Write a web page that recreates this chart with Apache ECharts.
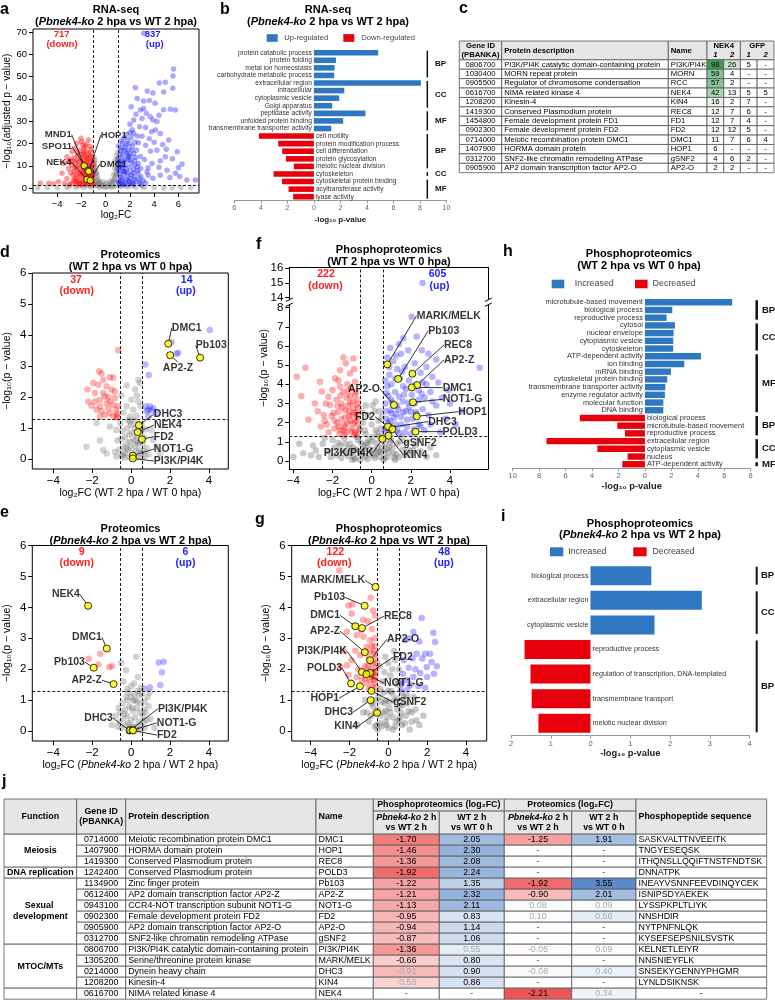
<!DOCTYPE html>
<html>
<head>
<meta charset="utf-8">
<script src="https://cdn.jsdelivr.net/npm/echarts@6.0.0/dist/echarts.min.js"></script>
<style>html,body{margin:0;padding:0;background:#fff;}#chart{width:775px;height:1000px;}</style>
</head>
<body>
<div id="chart"></div>
<script>
// ================= DATA =================
// Panel a: RNA-seq volcano (log2FC, -log10 adj p)
const aDown = [[-2.04,22.3],[-2.37,20.1],[-1.41,21.5],[-1.82,17.8],[-2.78,16.3],[-3.2,14],[-3.48,11],[-3.06,8.8],[-3.61,6.6],[-3.2,4.3],[-3.9,2.8],[-5.4,2.2],[-4.7,2.2],[-4.3,1.8],
[-1.1,2.0],[-1.3,3.1],[-1.6,2.4],[-1.9,2.9],[-2.2,2.1],[-2.5,2.6],[-2.8,2.0],[-1.2,4.5],[-1.5,5.2],[-1.8,4.6],[-2.1,5.5],[-2.4,4.8],[-2.7,5.8],[-1.1,6.8],[-1.4,7.6],[-1.7,8.4],[-2.0,7.2],[-2.3,8.1],[-2.6,7.5],[-2.9,6.9],[-1.2,9.5],[-1.5,10.4],[-1.9,11.2],[-2.2,10.1],[-2.5,11.5],[-2.8,10.4],[-1.1,12.2],[-1.4,13.1],[-1.7,14.0],[-2.0,13.2],[-2.3,14.5],[-2.6,13.6],[-1.2,15.8],[-1.6,16.5],[-2.1,16.9],[-2.5,18.0],[-1.3,18.6],[-1.9,19.4],[-1.05,10.6],[-1.05,4.1],[-1.35,1.5],[-1.75,1.6],[-2.05,1.4],[-2.4,1.6],[-3.0,1.7],[-3.4,2.2],[-1.25,11.8],[-1.55,12.0],[-1.85,9.0],[-1.65,6.3],[-1.35,5.9],[-2.15,3.6],[-1.45,3.5],[-2.65,3.3],[-3.1,11.9],[-2.9,12.8],[-1.15,8.2],[-2.45,9.6],[-2.0,20.8],[-1.6,19.8],[-1.3,14.4],[-1.8,15.2],[-2.35,12.3],[-1.95,6.1],[-1.25,6.6],[-2.55,4.1],
[-1.15,3.3],[-1.45,2.2],[-1.7,3.7],[-1.95,2.0],[-2.3,3.0],[-1.25,7.3],[-1.55,8.9],[-1.85,7.8],[-2.15,6.7],[-1.1,5.5],[-1.4,4.3],[-1.65,5.6],[-2.05,9.6],[-1.35,10.1],[-1.6,11.3],[-1.1,14.0],[-1.45,15.5],[-1.85,16.0],[-2.35,15.9],[-2.75,12.1],[-2.6,9.0],[-2.4,6.2],[-1.2,17.5],[-1.75,12.9],[-2.2,11.9],[-1.05,1.5],[-1.25,9.0],[-1.5,13.6],[-2.05,15.0],[-1.7,18.8]];
const aUp = [[3.13,69.4],[5.6,53.4],[5.55,50.2],[4.92,47.4],[4.42,47.1],[5.53,44.7],[2.44,45],[3.43,43.5],[4.78,43.1],[3.13,39],[3.6,39.3],[4.07,38],[4.78,35.1],[3.13,35.7],[3.35,33.5],[3.68,32],[2.86,35],[4.23,29.8],[5.34,35.3],[5.75,35],[2.31,30.5],[2.8,27.5],[3.79,25.3],[4.5,24.5],[5.2,21.5],[5.9,16.3],[6.3,10.8],[5.75,6.6],[6.7,3.6],[7.4,3.6],[4.23,17],[4.92,14],[3.82,11],[5.06,8],[4.5,5.8],[3.41,7.3],[2.6,40.2],[3.9,42.6],[2.1,36.4],[2.5,33.1],[3.0,31.2],[3.9,30.5],[4.4,32.6],[2.0,28.6],[3.3,27.1],[4.1,26.0],[2.3,24.6],[3.0,23.2],[3.6,22.1],[4.7,19.5],[2.7,20.3],[3.3,19.2],[4.0,20.6],[5.0,17.4],[3.7,16.5],[5.5,13.1],[4.5,12.3],[6.0,9.1],[5.3,4.8],[6.1,5.2],[3.9,4.4],[4.4,9.3],[3.2,12.8],[3.5,9.1],[2.9,5.1],
[1.1,2.2],[1.3,3.5],[1.6,2.6],[1.9,3.3],[2.2,2.2],[2.5,3.0],[2.8,2.5],[1.2,5.0],[1.5,6.2],[1.8,5.4],[2.1,6.0],[2.4,5.2],[2.7,6.6],[1.1,7.8],[1.4,8.9],[1.7,8.1],[2.0,9.2],[2.3,8.3],[2.6,9.5],[1.2,10.6],[1.5,11.7],[1.8,12.6],[2.1,11.3],[2.4,12.4],[2.7,11.0],[1.1,13.4],[1.4,14.6],[1.7,15.8],[2.0,14.4],[2.3,15.5],[1.25,16.9],[1.6,18.3],[1.9,17.2],[2.2,18.8],[1.4,20.2],[1.8,21.4],[2.1,22.6],[1.05,18.9],[1.15,1.5],[1.5,1.6],[1.85,1.5],[2.3,1.6],[2.9,1.7],[3.3,2.3],[1.35,4.2],[1.65,10.2],[2.45,13.8],[1.95,19.9],[1.3,12.3],[2.85,14.2],[2.55,17.0],[1.75,24.0],[2.2,26.2],[1.55,7.3],[2.05,4.3],[1.15,9.6],[2.6,7.8],[1.9,13.9],
[1.05,3.0],[1.35,2.0],[1.7,3.9],[2.0,2.5],[2.35,3.8],[1.15,6.3],[1.45,7.5],[1.85,7.0],[2.25,6.9],[1.05,9.0],[1.35,10.0],[1.6,13.0],[2.05,12.5],[2.4,10.5],[1.2,15.2],[1.55,16.8],[1.85,15.0],[2.15,16.8],[1.3,18.0],[1.7,19.5],[2.4,20.5],[1.5,22.6],[2.0,24.9],[2.6,23.3],[1.1,11.8],[2.75,4.2],[3.1,3.4],[1.25,21.1],[2.9,8.8],[3.5,5.8]];
const aNS = [[-0.95,13.5],[-0.9,11.2],[-0.85,9.5],[-0.95,8.6],[-0.8,7.4],[-0.9,6.2],[-0.7,5.5],[-0.85,4.6],[-0.6,3.8],[-0.75,3.0],[-0.5,2.5],[-0.95,2.3],[-0.4,1.8],[-0.65,1.6],[-0.3,1.1],[-0.2,0.6],[0.2,0.7],[0.3,1.2],[0.45,1.9],[0.6,2.6],[0.55,3.5],[0.7,4.2],[0.8,5.3],[0.65,6.0],[0.85,7.1],[0.9,8.5],[0.75,9.0],[0.95,10.3],[0.85,11.6],[0.95,13.0],[0.9,14.5],[0.98,16.2],[0.8,12.5],[-0.98,10.2],[-0.9,12.4],[0,0.3],[-0.5,0.4],[0.5,0.3],[-1.2,0.5],[1.2,0.6],[-1.8,0.4],[1.8,0.5],[-2.5,0.3],[2.5,0.4],[-3.2,0.3],[3.2,0.3],[-4.0,0.2],[4.0,0.3],[4.8,0.2],[-4.8,0.3],[5.5,0.2],[6.2,0.3],[-5.6,0.2],[7.0,0.2],[-0.8,0.9],[0.8,0.8],[-1.5,1.0],[1.5,1.0],[2.2,0.9],[-2.2,0.8],[3.0,0.8],[-3,0.9],[-0.6,1.2],[0.6,1.1],[-0.1,1.6],[0.1,2.2],[-0.2,2.8],[0.3,3.0],[-0.85,2.0],[-0.75,6.6],[0.9,6.2],[0.75,3.2],[-0.55,3.1],[0.95,11.0],[-0.97,7.9]];
const aHlNames = ['MND1','SPO11','NEK4','HOP1','DMC1'];
const aHlX = [-1.77,-1.47,-1.55,-1.40,-1.27];
const aHlY = [10.0,7.8,3.9,7.4,3.4];

// Panel b: GO terms RNA-seq
const bUpTerms = ['protein catabolic process','protein folding','metal ion homeostasis','carbohydrate metabolic process','extracellular region','intracellular','cytoplasmic vesicle','Golgi apparatus','peptidase activity','unfolded protein binding','transmembrane transporter activity'];
const bUpValues = [4.85,1.66,1.56,1.53,8.07,2.29,1.91,1.38,3.89,2.21,1.31];
const bDownTerms = ['cell motility','protein modification process','cell differentiation','protein glycosylation','meiotic nuclear division','cytoskeleton','cytoskeletal protein binding','acyltransferase activity','lyase activity'];
const bDownValues = [4.15,2.69,2.39,2.11,1.51,3.04,2.41,1.91,1.56];
const bGroups = [['BP',0,3],['CC',4,7],['MF',8,10],['BP',11,15],['CC',16,16],['MF',17,19]];

// Panel c: IP-MS table
const cGeneIds = ['0806700','1030400','0905500','0616700','1208200','1419300','1454800','0902300','0714000','1407900','0312700','0905900'];
const cDescriptions = ['PI3K/PI4K catalytic domain-containing protein','MORN repeat protein','Regulator of chromosome condensation','NIMA related kinase 4','Kinesin-4','Conserved Plasmodium protein','Female development protein FD1','Female development protein FD2','Meiotic recombination protein DMC1','HORMA domain protein','SNF2-like chromatin remodeling ATPase','AP2 domain transcription factor AP2-O'];
const cNames = ['PI3K/PI4K','MORN','RCC','NEK4','KIN4','REC8','FD1','FD2','DMC1','HOP1','gSNF2','AP2-O'];
const nek4Rep1 = [98,59,57,42,16,12,12,12,11,6,4,2];
const nek4Rep2 = [26,4,2,13,2,7,7,12,7,null,6,2];
const gfpRep1 = [5,null,null,5,7,6,4,5,6,null,2,null];
const gfpRep2 = [null,null,null,5,null,null,null,null,4,null,null,null];

// Panel d: Proteomics WT 2 hpa vs WT 0 hpa
const dDown = [[-0.66,3.51],[-1.64,2.83],[-1.52,2.76],[-1.09,2.64],[-0.92,2.62],[-1.68,2.4],[-1.26,2.35],[-2.25,2.24],[-1.86,2.13],[-1.35,2.02],[-0.83,1.97],[-1.6,1.91],[-1.09,1.86],[-2.03,1.72],[-1.6,1.7],[-1.17,1.64],[-0.78,1.59],[-0.71,1.46],[-0.75,1.39],[-1.43,2.56],[-1.86,1.86],[-1.26,1.8],[-0.92,1.75],[-1.0,2.24],[-1.52,1.54],[-1.77,1.59],[-1.35,1.43],[-0.92,1.37],[-1.17,2.0],[-2.2,1.86],[-1.94,2.45],[-1.43,2.13],[-0.66,1.7],[-1.09,1.48],[-1.6,1.37],[-0.83,2.18],[-0.7,1.33]];
const dUp = [[4.05,4.16],[2.08,3.77],[2.42,3.43],[2.33,3.4],[0.74,3.05],[0.91,2.71],[0.74,1.7],[0.97,1.7],[0.88,1.59],[1.14,1.64],[0.8,1.54],[1.05,1.57],[0.88,1.37],[1.31,1.48]];
const dNS = [[-0.23,2.37],[0.37,2.56],[0.45,2.45],[0.2,2.24],[0.02,1.91],[-0.23,1.7],[0.37,1.86],[0.11,1.59],[-0.06,1.37],[0.28,1.4],[0.5,1.7],[-0.4,1.5],[0.3,2.05],[-0.5,2.05],[-1.77,1.16],[-1.09,1.05],[-0.75,0.94],[-1.43,0.29],[-1.26,0.18],[-0.83,0.24],[-0.75,0.08],[1.31,0.4],[1.48,0.18],[1.14,0.62],[1.05,0.94],[-2.3,0.4],[-1.6,0.6],[-0.5,0.1],[-0.3,0.2],[-0.1,0.05],[0.1,0.15],[0.3,0.05],[0.5,0.2],[0.7,0.1],[-0.4,0.4],[-0.2,0.5],[0,0.35],[0.2,0.45],[0.4,0.3],[0.6,0.5],[-0.3,0.7],[-0.1,0.8],[0.1,0.65],[0.3,0.75],[0.5,0.9],[-0.2,1.0],[0,1.1],[0.2,1.0],[0.4,1.15],[-0.45,0.9],[0.65,0.7],[-0.6,0.3],[0.8,0.35],[-0.15,1.25],[0.15,1.25],[0.9,0.15],[-0.7,0.6],[0.75,0.95],[-0.55,1.15],[-0.05,0.55],[0.25,0.25],[0.45,0.55],[-0.35,0.05],[0.55,0.05],[0.05,0.05],[-0.25,0.35],[0.35,0.5],[-0.4,0.15],[-0.15,0.3],[0.05,0.85],[0.25,0.6],[0.45,0.95],[0.65,0.25],[-0.5,0.65],[0.15,0.1],[-0.05,1.2],[0.55,1.1]];
const dHlNames = ['DMC1','AP2-Z','Pb103','DHC3','NEK4','FD2','NOT1-G','PI3K/PI4K'];
const dHlX = [1.91,2.01,3.55,0.40,0.34,0.56,0.09,0.09];
const dHlY = [3.72,3.35,3.27,1.09,0.87,0.64,0.11,0.02];

// Panel e: Proteomics Pbnek4-ko 2 hpa vs WT 2 hpa
const eDown = [[-2.18,2.34],[-1.58,2.5],[-1.68,2.15],[-1.12,2.07],[-0.98,2.1]];
const eUp = [[1.42,2.22],[1.68,2.24],[1.58,1.9],[1.5,1.49],[0.68,1.38],[0.97,1.41]];
const eNS = [[0.26,2.4],[-0.51,2.21],[-0.26,1.97],[-0.4,1.6],[0.0,1.45],[0.35,1.75],[0.5,1.4],[-0.2,1.35],[0.15,1.55],[-0.5,0.1],[-0.3,0.2],[-0.1,0.05],[0.1,0.15],[0.3,0.05],[0.5,0.2],[0.7,0.1],[-0.4,0.4],[-0.2,0.5],[0,0.35],[0.2,0.45],[0.4,0.3],[0.6,0.5],[-0.3,0.7],[-0.1,0.8],[0.1,0.65],[0.3,0.75],[0.5,0.9],[-0.2,1.0],[0,1.1],[0.2,1.0],[0.4,1.15],[-0.45,0.9],[0.65,0.7],[-0.6,0.3],[0.8,0.35],[-0.15,1.25],[0.15,1.2],[0.9,0.8],[1.0,0.4],[-0.8,0.5],[-1.0,0.2],[1.2,0.1],[0.55,1.2],[-0.65,0.75],[0.85,1.1],[0.7,0.95],
[-0.35,0.55],[-0.15,0.25],[0.05,0.75],[0.25,0.15],[0.45,0.6],[0.65,0.3],[-0.55,0.6],[0.1,1.0],[0.3,0.95],[-0.25,1.1],[0.5,0.05],[-0.05,0.15],[0.75,0.6],[-0.7,0.15],[0.35,1.3],[0.95,1.25]];
const eHlNames = ['NEK4','DMC1','Pb103','AP2-Z','DHC3','PI3K/PI4K','NOT1-G','FD2'];
const eHlX = [-2.21,-1.25,-1.92,-0.90,-0.08,-0.05,0.08,0.10];
const eHlY = [4.05,2.67,2.05,1.52,0.02,0.03,0.03,0.02];

// Panel f: Phosphoproteomics WT 2 hpa vs WT 0 hpa
const fDown = [[-3.83,4.4],[-3.39,4.87],[-3.6,3.39],[-3.23,2.15],[-2.64,4.14],[-2.55,3.62],[-2.21,3.35],[-1.44,5.4],[-0.94,5.35],[-1.32,5.1],[-1.62,4.74],[-1.87,4.31],[-1.11,4.57],[-0.85,4.13],[-1.62,3.87],[-2.12,2.92],[-1.11,3.4],[-2.9,3.0],[-2.75,2.6],[-2.45,2.4],[-2.3,1.9],[-2.0,3.7],[-1.95,2.5],[-1.8,3.2],[-1.75,2.0],[-1.6,1.6],[-1.5,2.8],[-1.45,3.6],[-1.35,2.3],[-1.3,1.5],[-1.25,4.0],[-1.2,2.9],[-1.1,2.1],[-1.0,1.7],[-0.95,3.1],[-0.9,2.5],[-0.85,1.5],[-0.8,3.6],[-0.75,2.2],[-0.7,1.9],[-0.68,2.8],[-1.55,2.2],[-1.4,1.9],[-1.15,2.6],[-1.05,3.8],[-0.78,1.4],[-1.65,1.4],[-1.9,1.7],[-2.2,1.5],[-2.6,1.8],[-0.9,4.8],[-1.7,4.2],[-2.35,3.0],[-1.0,2.4],[-0.72,3.2],[-1.28,3.3],[-0.65,1.6],[-1.35,1.75],[-0.95,1.95],[-1.7,2.55],[-1.2,3.65],[-0.8,2.55],
[-1.9,2.1],[-1.7,1.8],[-1.45,1.6],[-1.25,2.0],[-1.05,1.55],[-0.85,2.05],[-0.7,2.4],[-1.15,2.35],[-1.35,2.65],[-1.55,3.0],[-0.95,2.75],[-0.75,2.95],[-1.75,2.85],[-2.05,2.35],[-1.4,1.35],[-0.9,1.35],[-1.1,3.05],[-0.85,3.45],[-1.6,3.4],[-2.4,2.1]];
const fUp = [[2.6,15.0],[2.04,7.53],[1.62,6.4],[1.87,5.78],[2.56,5.78],[5.52,4.87],[0.9,4.5],[1.1,5.2],[1.3,4.8],[1.5,5.6],[1.7,4.9],[2.2,5.1],[2.5,4.6],[2.8,4.9],[3.1,4.4],[3.4,4.1],[3.0,3.6],[2.7,3.3],[2.4,3.7],[1.9,4.2],[1.6,3.9],[1.2,3.6],[0.8,3.9],[0.7,3.0],[1.0,3.2],[1.3,2.9],[1.6,3.1],[1.9,2.8],[2.2,3.0],[2.6,2.7],[2.9,2.4],[3.3,2.9],[3.6,3.3],[0.75,2.2],[1.0,2.5],[1.2,1.9],[1.5,2.3],[1.8,1.8],[2.1,2.2],[2.4,1.9],[2.7,1.6],[3.0,1.9],[3.5,1.5],[0.65,1.5],[0.9,1.4],[1.1,1.7],[1.4,1.45],[1.7,1.5],[2.0,1.4],[4.0,3.0],[3.8,2.2],[4.3,1.9],[2.3,6.5],[2.9,5.6],[3.3,5.3],[1.4,6.1],[0.95,5.9],[0.8,5.4],[2.6,4.1],[1.45,4.3],[0.85,3.4],[0.7,2.6],[3.9,3.7],[4.6,2.6],[1.25,2.45],[1.75,2.6],[2.25,2.55],[0.95,2.1],[1.4,3.35],[2.05,3.45],
[0.7,1.7],[0.85,2.0],[0.95,2.65],[1.05,3.05],[1.15,2.25],[1.3,1.6],[1.35,2.7],[1.5,1.9],[1.6,2.55],[1.65,3.45],[1.8,2.15],[1.9,3.05],[2.0,2.55],[2.15,1.65],[2.3,2.45],[2.4,3.2],[2.5,1.8],[2.55,3.5],[1.0,4.0],[1.2,4.3],[1.75,3.75],[2.2,3.95],[0.75,3.55],[0.9,4.9],[1.55,4.65],[2.1,4.55],[2.8,4.0],[3.1,3.1],[0.7,4.2],[1.25,5.5]];
const fNS = [[-3.5,0.4],[-3.0,0.8],[-3.1,0.3],[-2.7,0.2],[-2.5,0.9],[-2.2,0.5],[-2.0,1.1],[-1.8,0.3],[-1.6,0.8],[-1.4,1.2],[-1.3,0.4],[-1.1,0.9],[-0.9,0.2],[-0.8,0.6],[-0.7,1.1],[-0.5,0.3],[-0.4,0.8],[-0.3,1.4],[-0.2,0.1],[-0.1,0.6],[0,1.0],[0.1,0.3],[0.2,1.6],[0.3,0.7],[0.4,0.2],[0.5,1.2],[0.6,0.5],[0.7,0.9],[0.8,0.2],[0.9,0.7],[1.0,1.1],[1.1,0.4],[1.3,0.9],[1.4,0.2],[1.6,0.6],[1.8,1.0],[2.0,0.3],[2.2,0.8],[2.5,0.5],[2.8,0.2],[3.0,0.7],[-0.45,2.0],[-0.2,2.4],[0.0,1.9],[0.15,2.6],[0.35,2.1],[0.45,1.7],[-0.35,1.6],[0.05,2.9],[-0.5,2.6],[0.5,2.3],[-4.0,0.2],[-2.4,1.2],[-1.9,0.7],[1.2,0.05],[-1.0,0.05],[0.25,0.4],[-0.6,0.05],[2.4,1.1],[-2.85,0.55],[1.55,1.25],[3.3,0.3],[-3.7,0.9],[-1.2,0.65],[0.65,0.15],[-0.25,0.95],[0.35,1.3],[-1.55,0.15],[1.9,0.55],
[-1.5,0.5],[-1.2,0.25],[-0.95,0.7],[-0.6,0.45],[-0.35,0.2],[-0.15,1.1],[0.05,0.6],[0.25,0.95],[0.45,0.45],[0.65,1.2],[0.85,0.45],[1.05,0.7],[1.25,0.35],[1.45,1.0],[-1.35,0.9],[-0.75,1.25],[-0.45,0.6],[0.15,0.15],[0.55,0.75],[0.95,1.0],[-1.05,0.45],[-0.25,0.8],[0.35,0.5],[0.75,0.6],[1.15,0.15],[-0.55,0.95],[0.05,1.25],[-0.85,0.1],[0.6,0.05],[1.7,0.3],[-1.7,0.95],[-2.1,0.2],[2.1,0.55],[-0.1,0.35],[0.3,1.45],[-0.6,1.7],[0.4,2.6],[-0.3,2.9],[0.2,3.1]];
const fHlNames = ['MARK/MELK','Pb103','REC8','AP2-Z','DMC1','NOT1-G','HOP1','DHC3','POLD3','AP2-O','FD2','gSNF2','KIN4','PI3K/PI4K'];
const fHlX = [0.80,1.35,2.08,2.32,2.05,2.11,2.30,0.90,2.24,1.14,0.83,1.06,0.86,0.55];
const fHlY = [5.04,4.28,4.55,3.96,3.84,3.06,2.33,1.75,1.53,2.92,1.80,1.66,1.32,1.15];

// Panel g: Phosphoproteomics Pbnek4-ko 2 hpa vs WT 2 hpa
const gDown = [[-2.53,5.19],[-2.06,4.06],[-1.85,4.1],[-0.91,4.31],[-0.68,3.74],[-1.89,3.8],[-2.14,3.2],[-1.63,3.1],[-1.28,3.05],[-0.94,2.94],[-1.11,2.72],[-2.15,2.13],[-2.49,2.08],[-2.06,1.81],[-1.63,1.75],[-1.37,1.65],[-1.11,1.54],[-0.85,1.43],[-0.7,2.5],[-0.8,2.2],[-0.65,1.9],[-0.75,1.65],[-0.9,2.0],[-1.0,2.35],[-1.2,2.1],[-1.45,2.45],[-1.55,2.0],[-0.7,3.0],[-0.85,3.3],[-1.05,3.55],[-1.3,3.6],[-1.7,2.6],[-1.9,2.3],[-0.95,1.65],[-0.62,1.4],[-0.72,2.75],[-1.25,2.55],[-1.75,3.4],[-2.3,2.6],[-0.8,3.9],[-0.6,2.2],[-1.0,1.35],[-1.4,3.25],[-0.95,2.55],[-0.75,1.85],[-0.65,2.05],[-0.85,1.75],[-1.15,1.9],
[-0.7,1.55],[-0.8,1.9],[-0.9,2.25],[-0.65,2.35],[-0.75,2.6],[-0.95,1.85],[-1.05,2.1],[-0.85,2.75],[-1.2,1.7],[-0.68,1.75]];
const gUp = [[1.72,3.66],[2.32,3.18],[2.41,2.88],[1.29,3.2],[0.86,2.94],[1.46,2.5],[2.15,2.5],[2.23,2.23],[1.98,2.07],[1.64,1.88],[1.29,1.75],[0.95,1.65],[0.69,1.54],[1.1,3.0],[1.6,2.9],[1.9,2.5],[1.25,2.35],[0.8,2.3],[1.05,2.05],[1.4,2.0],[1.75,2.35],[2.0,1.75],[2.35,1.85],[2.5,2.1],[0.75,1.85],[1.15,1.5],[1.55,1.45],[1.9,1.4],[0.65,1.35],[1.0,1.35]];
const gNS = [[-1.0,0.3],[-0.8,0.8],[-0.6,0.2],[-0.5,1.1],[-0.4,0.5],[-0.3,1.6],[-0.2,0.9],[-0.1,0.2],[0,1.3],[0.1,0.6],[0.2,2.0],[0.3,1.0],[0.4,0.3],[0.5,1.5],[0.6,0.8],[0.7,0.2],[0.8,1.1],[0.9,0.5],[1.0,0.9],[1.2,0.3],[1.4,0.7],[1.6,0.2],[-0.45,2.1],[-0.15,2.4],[0.1,1.8],[0.35,2.3],[0.55,2.0],[-0.35,0.15],[-1.3,0.6],[-1.6,0.2],[-1.2,1.0],[0.25,0.05],[1.8,0.5],[-0.7,0.6],[0.45,0.7],[-0.05,0.45],[0.15,1.3],[-0.25,1.25],[0.7,1.25],[1.1,0.05],[-0.55,0.05],[0.05,0.95],[0.6,0.45],[-0.15,0.65],[1.3,1.1],
[-0.9,0.5],[-0.7,0.15],[-0.55,0.7],[-0.35,0.95],[-0.15,0.3],[0.05,0.75],[0.25,0.45],[0.45,1.05],[0.65,0.6],[0.85,0.25],[1.05,0.65],[-0.65,1.0],[-0.45,0.25],[-0.25,0.6],[0.0,0.1],[0.35,0.15],[0.55,0.35],[0.75,0.85],[0.95,1.15],[-0.85,0.9],[-0.1,1.0],[0.2,1.2],[0.4,1.6],[-0.4,1.35],[0.65,1.6],[1.2,0.6],[1.45,0.35],[-1.1,0.6],[0.3,2.6],[-0.2,1.9],[0.0,2.2]];
const gHlNames = ['MARK/MELK','Pb103','DMC1','REC8','AP2-Z','AP2-O','PI3K/PI4K','FD2','NOT1-G','POLD3','HOP1','gSNF2','DHC3','KIN4'];
const gHlX = [-0.66,-1.22,-1.70,-1.36,-1.21,-0.94,-1.36,-0.95,-1.13,-1.92,-1.46,-0.87,-0.91,-0.58];
const gHlY = [4.66,4.05,3.39,3.33,2.55,2.29,1.91,1.88,1.84,1.54,1.45,1.30,1.00,0.59];

// Panel h: GO terms phospho WT 2 vs 0
const hUpTerms = ['microtubule-based movement','biological process','reproductive process','cytosol','nuclear envelope','cytoplasmic vesicle','cytoskeleton','ATP-dependent activity','ion binding','mRNA binding','cytoskeletal protein binding','transmembrane transporter activity','enzyme regulator activity','molecular function','DNA binding'];
const hUpValues = [6.6,2.07,1.64,2.27,2.17,2.14,2.14,4.24,2.98,1.97,1.69,1.54,1.51,1.39,1.39];
const hDownTerms = ['biological process','microtubule-based movement','reproductive process','extracellular region','cytoplasmic vesicle','nucleus','ATP-dependent activity'];
const hDownValues = [4.92,2.09,1.51,7.44,3.6,1.31,1.71];
const hGroups = [['BP',0,2],['CC',3,6],['MF',7,14],['BP',15,17],['CC',18,20],['MF',21,21]];

// Panel i: GO terms phospho ko vs WT
const iUpTerms = ['biological process','extracellular region','cytoplasmic vesicle'];
const iUpValues = [1.53,2.8,1.61];
const iDownTerms = ['reproductive process','regulation of transcription, DNA-templated','transmembrane transport','meiotic nuclear division'];
const iDownValues = [1.66,1.51,1.48,1.31];
const iGroups = [['BP',0,0],['CC',1,2],['BP',3,6]];

// Panel j: summary table
const jFunctions = ['Meiosis','Meiosis','Meiosis','DNA replication','Sexual development','Sexual development','Sexual development','Sexual development','Sexual development','Sexual development','MTOC/MTs','MTOC/MTs','MTOC/MTs','MTOC/MTs',''];
const jGeneIds = ['0714000','1407900','1419300','1242400','1134900','0612400','0943100','0902300','0905900','0312700','0806700','1305200','0214000','1208200','0616700'];
const jDescriptions = ['Meiotic recombination protein DMC1','HORMA domain protein','Conserved Plasmodium protein','Conserved Plasmodium protein','Zinc finger protein','AP2 domain transcription factor AP2-Z','CCR4-NOT transcription subunit NOT1-G','Female development protein FD2','AP2 domain transcription factor AP2-O','SNF2-like chromatin remodeling ATPase','PI3K/PI4K catalytic domain-containing protein','Serine/threonine protein kinase','Dynein heavy chain','Kinesin-4','NIMA related kinase 4'];
const jNames = ['DMC1','HOP1','REC8','POLD3','Pb103','AP2-Z','NOT1-G','FD2','AP2-O','gSNF2','PI3K/PI4K','MARK/MELK','DHC3','KIN4','NEK4'];
const phosKoVsWt = [-1.70,-1.46,-1.36,-1.92,-1.22,-1.21,-1.13,-0.95,-0.94,-0.87,-1.36,-0.66,-0.91,-0.58,null];
const phosWt2vs0 = [2.05,2.30,2.08,2.24,1.35,2.32,2.11,0.83,1.14,1.06,0.55,0.80,0.90,0.86,null];
const protKoVsWt = [-1.25,null,null,null,-1.92,-0.90,0.08,0.10,null,null,-0.05,null,-0.08,null,-2.21];
const protWt2vs0 = [1.91,null,null,null,3.55,2.01,0.09,0.56,null,null,0.09,null,0.40,null,0.34];
const phosKoSig = [1,1,1,1,1,1,1,1,1,1,1,1,0,0,0];
const phosWtSig = [1,1,1,1,1,1,1,1,1,1,0,1,1,1,0];
const protKoSig = [1,0,0,0,1,1,0,0,0,0,0,0,0,0,1];
const protWtSig = [1,0,0,0,1,1,0,0,0,0,0,0,0,0,0];
const jSequences = ['SASKVALTTNVEEITK','TNGYESEQSK','ITHQNSLLQQIFTNSTFNDTSK','DNNATPK','INEAYVSNNFEEVDINQYCEK','ISNIPSDYAEKEK','LYSSPKPLTLIYK','NNSHDIR','NYTPNFNLQK','KYSEFSEPSNILSVSTK','KELNETLEIYR','NNSNIEYFLK','SNSEKYGENNYPHGMR','LYNLDSIKNSK','-'];

// ================= LAYOUT / STYLE =================
const FF = '"Liberation Sans", Arial, Helvetica, sans-serif';
const MINUS = '\u2212';
const BLUE = '#2f77c1', RED = '#e8000d';
const PT = {
  std: {red: 'rgba(255,0,0,0.38)', blue: 'rgba(0,0,255,0.34)', gray: 'rgba(100,100,100,0.36)'},
  rna: {red: 'rgba(255,0,0,0.5)', blue: 'rgba(0,0,255,0.42)', gray: 'rgba(110,110,110,0.42)'},
  phos: {red: 'rgba(255,0,0,0.4)', blue: 'rgba(0,0,255,0.36)', gray: 'rgba(95,95,95,0.42)'}
};
const HDR = '#e6e6e6';
const TC_COLS = [0, 42.4, 209, 247.7, 264.4, 281.1, 297.8, 314.7];
const TJ_COLS = [0, 72.7, 121.7, 312, 369.3, 435.3, 500.3, 567.7, 632, 762.7];

// label offsets (px from point centre) for highlighted genes
const aLab = [[-26,-31,'center'],[-31,-24,'center'],[-28,-17,'center'],[25,-36.5,'center'],[23,-16.4,'center']];
const dLab = [[3.6,-16,'left'],[-7.3,12.6,'left'],[-4.3,-12.2,'left'],[15,-11.1,'left'],[16.2,-6.9,'left'],[11.9,-2.6,'left'],[21,-6.6,'left'],[21,2.6,'left']];
const eLab = [[-8.2,-11.4,'right'],[-4.9,-11.2,'right'],[-8.8,-5.5,'right'],[-11.7,-3.9,'right'],[-16.6,-12.4,'right'],[27.8,-21.4,'left'],[24.2,-7.4,'left'],[23.9,4.6,'left']];
const fLab = [[29.3,-48.7,'left'],[30.2,-48.3,'left'],[31.6,-28.8,'left'],[26.9,-25.1,'left'],[30.9,0.3,'left'],[29.7,-3,'left'],[41.6,-4.6,'left'],[39,-5.8,'left'],[27.1,0,'left'],[-14,-16,'right'],[-13,-9.8,'right'],[10.8,14.1,'left'],[14.8,19.3,'left'],[-9.2,13.7,'right']];
const gLab = [[-10.5,-6.5,'right'],[-19.6,-8.4,'right'],[-15.3,-10.9,'right'],[22,-11.8,'left'],[-24.8,-21,'right'],[17,-21,'left'],[-15,-20.8,'right'],[23,-15.7,'left'],[17.6,9,'left'],[-9,-15.3,'right'],[-21,12,'right'],[21.6,11.3,'left'],[-17.6,12,'right'],[-19,13.3,'right']];

function mix(a, b, t) { return 'rgb(' + a.map((x, i) => Math.round(x + (b[i] - x) * t)).join(',') + ')'; }
function fmtSigned(v) { return v < 0 ? MINUS + Math.abs(v) : String(v); }
function greenScale(v) { if (v == null) return '#fff'; const t = Math.pow(Math.max(0, Math.min(1, (v - 10) / 88)), 0.8); return mix([255,255,255],[60,158,85],t); }
function redBlue(v) {
  if (v == null) return '#fff';
  if (v < 0) return mix([255,255,255],[236,64,64],Math.min(-v / 2.5, 1));
  return mix([255,255,255],[88,136,200],Math.min(v / 3.6, 1));
}
const rng = (a, b, s) => { const r = []; for (let v = a; v <= b + 1e-9; v += s) r.push(+v.toFixed(4)); return r; };

function valAxis(gi, min, max, ticks, fs, extra) {
  return Object.assign({
    gridIndex: gi, type: 'value', min: min, max: max,
    splitLine: {show: false},
    axisLine: {show: false, onZero: false},
    axisTick: {show: true, length: 4, customValues: ticks, lineStyle: {color: '#000', width: 1}},
    axisLabel: {customValues: ticks, formatter: fmtSigned, fontSize: fs, color: '#000', fontFamily: FF, margin: 6},
    nameLocation: 'middle',
    nameTextStyle: {fontSize: 10.5, color: '#000', fontFamily: FF}
  }, extra || {});
}
const BLACK_LINE = {show: true, onZero: false, lineStyle: {color: '#000', width: 1}};

function volcano(o) {
  const s = [];
  const c = o.colors || PT.std;
  const ml = {silent: true, symbol: 'none', label: {show: false}, animation: false,
    lineStyle: {color: '#000', width: 0.9, type: [3, 2]}, data: o.lines};
  s.push({type: 'scatter', xAxisIndex: o.xi, yAxisIndex: o.yi, data: o.ns || [], symbolSize: o.size,
    itemStyle: {color: c.gray}, silent: true, z: 2, markLine: ml});
  if (o.down) s.push({type: 'scatter', xAxisIndex: o.xi, yAxisIndex: o.yi, data: o.down, symbolSize: o.size, itemStyle: {color: c.red}, silent: true, z: 2});
  if (o.up) s.push({type: 'scatter', xAxisIndex: o.xi, yAxisIndex: o.yi, data: o.up, symbolSize: o.size, itemStyle: {color: c.blue}, silent: true, z: 2});
  if (o.names) {
    const offs = o.offs;
    s.push({type: 'scatter', xAxisIndex: o.xi, yAxisIndex: o.yi, z: 6, silent: true,
      data: o.names.map((n, i) => ({name: n, value: [o.xs[i], o.ys[i]]})),
      symbolSize: o.hlSize, itemStyle: {color: '#ffff00', borderColor: '#000', borderWidth: 1},
      label: {show: true, formatter: '{b}', fontSize: o.lfs, fontWeight: 'bold', color: '#000', fontFamily: FF},
      labelLine: {show: true, lineStyle: {color: '#000', width: 0.8}},
      labelLayout: function (p) {
        const f = offs[p.dataIndex];
        return {x: p.rect.x + p.rect.width / 2 + f[0], y: p.rect.y + p.rect.height / 2 + f[1], align: f[2], verticalAlign: 'middle'};
      }
    });
  }
  return s;
}

function goBars(ai, upT, upV, dnT, dnV, upName, dnName, fs, bw) {
  const terms = upT.concat(dnT);
  const up = terms.map((t, i) => i < upT.length ? upV[i] : '-');
  const dn = terms.map((t, i) => i >= upT.length ? -dnV[i - upT.length] : '-');
  const lbl = pos => ({show: true, position: pos, distance: 2, fontSize: fs, color: '#333', fontFamily: FF, formatter: p => terms[p.dataIndex]});
  return [
    {type: 'bar', name: upName, xAxisIndex: ai, yAxisIndex: ai, data: up, barWidth: bw, barGap: '-100%', itemStyle: {color: BLUE}, label: lbl('left'), silent: true},
    {type: 'bar', name: dnName, xAxisIndex: ai, yAxisIndex: ai, data: dn, barWidth: bw, barGap: '-100%', itemStyle: {color: RED}, label: lbl('right'), silent: true}
  ];
}
function barXAxis(gi, min, max, interval, fs, nameFs, gap) {
  return {gridIndex: gi, type: 'value', min: min, max: max, interval: interval, splitLine: {show: false},
    axisLine: {show: true, onZero: false, lineStyle: {color: '#9a9a9a'}},
    axisTick: {show: true, length: 3, lineStyle: {color: '#9a9a9a'}},
    axisLabel: {formatter: v => String(Math.abs(v)), fontSize: fs, color: '#666', fontFamily: FF, margin: 4},
    name: '-log\u2081\u2080 p-value', nameLocation: 'middle', nameGap: gap,
    nameTextStyle: {fontWeight: 'bold', fontSize: nameFs, color: '#222', fontFamily: FF}};
}
function catAxis(gi, n) { return {gridIndex: gi, type: 'category', inverse: true, show: false, data: rng(0, n - 1, 1).map(String)}; }

function tableSeries(gi, cols, cells, fs) {
  return {type: 'custom', coordinateSystem: 'cartesian2d', xAxisIndex: gi, yAxisIndex: gi, silent: true, clip: false, z: 5,
    data: cells.map((c, i) => [cols[c.c0], c.r0, i]),
    encode: {x: 0, y: 1},
    renderItem: function (params, api) {
      const c = cells[params.dataIndex];
      const p0 = api.coord([cols[c.c0], c.r0]);
      const p1 = api.coord([cols[c.c1], c.r1]);
      const w = p1[0] - p0[0], h = p1[1] - p0[1];
      const ch = [];
      if (!c.noBox) ch.push({type: 'rect', shape: {x: p0[0], y: p0[1], width: w, height: h}, style: {fill: c.fill || '#fff', stroke: '#555', lineWidth: 0.8}});
      if (c.text !== undefined && c.text !== '') {
        const st = {text: c.text, x: c.align === 'left' ? p0[0] + 2.5 : p0[0] + w / 2, y: p0[1] + h / 2,
          align: c.align || 'center', verticalAlign: 'middle', fontSize: fs, fontFamily: FF,
          fontWeight: c.bold ? 'bold' : 'normal', fontStyle: c.italic ? 'italic' : 'normal',
          fill: c.color || '#000', lineHeight: fs * 1.2};
        if (c.rich) st.rich = c.rich;
        if (c.wrap) { st.width = w - 4; st.overflow = 'break'; }
        ch.push({type: 'text', style: st});
      }
      return {type: 'group', children: ch};
    }
  };
}

function cCells() {
  const cells = [];
  cells.push({c0:0,c1:1,r0:0,r1:2,text:'Gene ID\n(PBANKA)',bold:true,fill:HDR});
  cells.push({c0:1,c1:2,r0:0,r1:2,text:'Protein description',bold:true,fill:HDR,align:'left'});
  cells.push({c0:2,c1:3,r0:0,r1:2,text:'Name',bold:true,fill:HDR,align:'left'});
  cells.push({c0:3,c1:5,r0:0,r1:2,fill:HDR});
  cells.push({c0:5,c1:7,r0:0,r1:2,fill:HDR});
  cells.push({c0:3,c1:5,r0:0,r1:1,text:'NEK4',bold:true,noBox:true});
  cells.push({c0:5,c1:7,r0:0,r1:1,text:'GFP',bold:true,noBox:true});
  [3,4,5,6].forEach((c, k) => cells.push({c0:c,c1:c+1,r0:1,r1:2,text:String(k % 2 + 1),bold:true,italic:true,noBox:true}));
  cGeneIds.forEach((g, i) => {
    const r0 = 2 + i, r1 = 3 + i;
    cells.push({c0:0,c1:1,r0,r1,text:g});
    cells.push({c0:1,c1:2,r0,r1,text:cDescriptions[i],align:'left'});
    cells.push({c0:2,c1:3,r0,r1,text:cNames[i],align:'left'});
    [nek4Rep1, nek4Rep2, gfpRep1, gfpRep2].forEach((arr, k) => {
      const v = arr[i];
      cells.push({c0:3+k,c1:4+k,r0,r1,text: v == null ? '-' : String(v), fill: k < 2 ? greenScale(v) : '#fff'});
    });
  });
  return cells;
}

function jCells() {
  const cells = [];
  const H1 = 1.1, H = 3.2;
  const koRich = {i: {fontStyle: 'italic', fontWeight: 'bold', fontSize: 8.9, fontFamily: FF, fill: '#000', lineHeight: 10.7}};
  cells.push({c0:0,c1:1,r0:0,r1:H,text:'Function',bold:true,fill:HDR});
  cells.push({c0:1,c1:2,r0:0,r1:H,text:'Gene ID\n(PBANKA)',bold:true,fill:HDR});
  cells.push({c0:2,c1:3,r0:0,r1:H,text:'Protein description',bold:true,fill:HDR,align:'left'});
  cells.push({c0:3,c1:4,r0:0,r1:H,text:'Name',bold:true,fill:HDR,align:'left'});
  cells.push({c0:4,c1:6,r0:0,r1:H1,text:'Phosphoproteomics (log\u2082FC)',bold:true,fill:HDR});
  cells.push({c0:6,c1:8,r0:0,r1:H1,text:'Proteomics (log\u2082FC)',bold:true,fill:HDR});
  cells.push({c0:4,c1:5,r0:H1,r1:H,text:'{i|Pbnek4-ko} 2 h\nvs WT 2 h',rich:koRich,bold:true,fill:HDR});
  cells.push({c0:5,c1:6,r0:H1,r1:H,text:'WT 2 h\nvs WT 0 h',bold:true,fill:HDR});
  cells.push({c0:6,c1:7,r0:H1,r1:H,text:'{i|Pbnek4-ko} 2 h\nvs WT 2 h',rich:koRich,bold:true,fill:HDR});
  cells.push({c0:7,c1:8,r0:H1,r1:H,text:'WT 2 h\nvs WT 0 h',bold:true,fill:HDR});
  cells.push({c0:8,c1:9,r0:0,r1:H,text:'Phosphopeptide sequence',bold:true,fill:HDR,align:'left'});
  let i = 0;
  while (i < jFunctions.length) {
    let k = i;
    while (k + 1 < jFunctions.length && jFunctions[k + 1] === jFunctions[i] && jFunctions[i] !== '') k++;
    cells.push({c0:0,c1:1,r0:H+i,r1:H+k+1,text:jFunctions[i],bold:true,wrap:true});
    i = k + 1;
  }
  jGeneIds.forEach((g, r) => {
    const r0 = H + r, r1 = r0 + 1;
    cells.push({c0:1,c1:2,r0,r1,text:g});
    cells.push({c0:2,c1:3,r0,r1,text:jDescriptions[r],align:'left'});
    cells.push({c0:3,c1:4,r0,r1,text:jNames[r],align:'left'});
    [[phosKoVsWt,phosKoSig],[phosWt2vs0,phosWtSig],[protKoVsWt,protKoSig],[protWt2vs0,protWtSig]].forEach((pair, k) => {
      const v = pair[0][r];
      cells.push({c0:4+k,c1:5+k,r0,r1,text: v == null ? '-' : v.toFixed(2), fill: redBlue(v), color: v == null ? '#444' : (pair[1][r] ? '#000' : '#aaa')});
    });
    cells.push({c0:8,c1:9,r0,r1,text:jSequences[r],align: jSequences[r] === '-' ? 'center' : 'left'});
  });
  return cells;
}

// ================= OPTION =================
const gridBox = {show: true, borderColor: '#000', borderWidth: 1, backgroundColor: 'transparent'};
const grids = [
  Object.assign({left:33, top:29, width:166, height:164}, gridBox),        //0 a
  {left:234.3, top:48.9, width:212.2, height:151.6},                       //1 b
  Object.assign({left:32.3, top:273, width:196, height:196}, gridBox),      //2 d
  Object.assign({left:32.3, top:545.5, width:196, height:195.5}, gridBox),  //3 e
  {left:289.3, top:267.3, width:199, height:35.2},                          //4 f upper
  {left:289.3, top:302.5, width:199, height:166.5},                         //5 f lower
  Object.assign({left:291.7, top:545.5, width:195, height:195.5}, gridBox), //6 g
  {left:512.7, top:298.4, width:238, height:169.7},                         //7 h
  {left:511, top:563.4, width:238.5, height:172.2},                         //8 i
  {left:459.3, top:41, width:314.7, height:131.7},                          //9 table c
  {left:4, top:799, width:762.7, height:200.2}                              //10 table j
].map(g => Object.assign({outerBoundsMode: 'none', containLabel: false}, g));

const nameRich = fs => ({fontSize: fs, color: '#000', fontFamily: FF, rich: {i: {fontStyle: 'italic', fontSize: fs, color: '#000', fontFamily: FF}}});

const xAxes = [
  valAxis(0, -6, 7.7, [-4,-2,0,2,4,6], 9.5, {name: 'log\u2082FC', nameGap: 14, nameTextStyle: {fontSize: 10, color: '#000', fontFamily: FF}}),
  barXAxis(1, -6, 10, 2, 7, 8, 15),
  valAxis(2, -5.08, 5.0, [-4,-2,0,2,4], 11.5, {name: 'log\u2082FC (WT 2 hpa / WT 0 hpa)', nameGap: 18.5}),
  valAxis(3, -5.08, 5.0, [-4,-2,0,2,4], 11.5, {name: 'log\u2082FC ({i|Pbnek4-ko} 2 hpa / WT 2 hpa)', nameGap: 18.5, nameTextStyle: nameRich(10.5)}),
  {gridIndex: 4, type: 'value', min: -4.21, max: 5.96, position: 'top', axisLine: BLACK_LINE, axisTick: {show: false}, axisLabel: {show: false}, splitLine: {show: false}},
  valAxis(5, -4.21, 5.96, [-4,-2,0,2,4], 11.5, {axisLine: BLACK_LINE, name: 'log\u2082FC (WT 2 hpa / WT 0 hpa)', nameGap: 18.5}),
  valAxis(6, -4.98, 5.07, [-4,-2,0,2,4], 11.5, {name: 'log\u2082FC ({i|Pbnek4-ko} 2 hpa / WT 2 hpa)', nameGap: 18.5, nameTextStyle: nameRich(10.5)}),
  barXAxis(7, -10, 8, 2, 7.5, 9.3, 13.5),
  barXAxis(8, -2, 4, 1, 7.5, 9.3, 13),
  {gridIndex: 9, type: 'value', min: 0, max: TC_COLS[TC_COLS.length - 1], show: false},
  {gridIndex: 10, type: 'value', min: 0, max: TJ_COLS[TJ_COLS.length - 1], show: false}
];
const yAxes = [
  valAxis(0, -2.2, 71.3, [0,10,20,30,40,50,60,70], 9.5, {name: '\u2212log\u2081\u2080(adjusted p \u2212 value)', nameGap: 18, nameTextStyle: {fontSize: 10, color: '#000', fontFamily: FF}}),
  catAxis(1, bUpTerms.length + bDownTerms.length),
  valAxis(2, -0.32, 6.0, [0,1,2,3,4,5,6], 11.5, {name: '\u2212log\u2081\u2080(p \u2212 value)', nameGap: 20}),
  valAxis(3, -0.32, 6.0, [0,1,2,3,4,5,6], 11.5, {name: '\u2212log\u2081\u2080(p \u2212 value)', nameGap: 20}),
  valAxis(4, 13.67, 16.07, [14,15,16], 11.5, {axisLine: BLACK_LINE}),
  valAxis(5, -0.42, 8.27, [0,1,2,3,4,5,6,7,8], 11.5, {axisLine: BLACK_LINE}),
  valAxis(6, -0.32, 6.0, [0,1,2,3,4,5,6], 11.5, {name: '\u2212log\u2081\u2080(p \u2212 value)', nameGap: 20}),
  catAxis(7, hUpTerms.length + hDownTerms.length),
  catAxis(8, iUpTerms.length + iDownTerms.length),
  {gridIndex: 9, type: 'value', min: 0, max: 14, inverse: true, show: false},
  {gridIndex: 10, type: 'value', min: 0, max: 18.2, inverse: true, show: false},
  {gridIndex: 4, type: 'value', position: 'right', min: 13.67, max: 16.07, axisLine: BLACK_LINE, axisTick: {show: false}, axisLabel: {show: false}, splitLine: {show: false}},
  {gridIndex: 5, type: 'value', position: 'right', min: -0.42, max: 8.27, axisLine: BLACK_LINE, axisTick: {show: false}, axisLabel: {show: false}, splitLine: {show: false}}
];

const vLines = v => [{xAxis: -v}, {xAxis: v}, {yAxis: 1.3}];
let series = [];
series = series.concat(volcano({xi:0, yi:0, ns:aNS, down:aDown, up:aUp, names:aHlNames, xs:aHlX, ys:aHlY, offs:aLab, size:5.5, hlSize:6.5, lfs:9.5, lines:vLines(1), colors: PT.rna}));
series = series.concat(volcano({xi:2, yi:2, ns:dNS, down:dDown, up:dUp, names:dHlNames, xs:dHlX, ys:dHlY, offs:dLab, size:6.5, hlSize:7, lfs:10.5, lines:vLines(0.58)}));
series = series.concat(volcano({xi:3, yi:3, ns:eNS, down:eDown, up:eUp, names:eHlNames, xs:eHlX, ys:eHlY, offs:eLab, size:6.5, hlSize:7, lfs:10.5, lines:vLines(0.58)}));
series = series.concat(volcano({xi:4, yi:4, ns:[], up:fUp.filter(p => p[1] > 10), size:6.5, lines:[{xAxis:-0.58},{xAxis:0.58}], colors: PT.phos}));
series = series.concat(volcano({xi:5, yi:5, ns:fNS, down:fDown, up:fUp.filter(p => p[1] <= 10), names:fHlNames, xs:fHlX, ys:fHlY, offs:fLab, size:6.5, hlSize:7, lfs:10.5, lines:vLines(0.58), colors: PT.phos}));
series = series.concat(volcano({xi:6, yi:6, ns:gNS, down:gDown, up:gUp, names:gHlNames, xs:gHlX, ys:gHlY, offs:gLab, size:6.5, hlSize:7, lfs:10.5, lines:vLines(0.58), colors: PT.phos}));
series = series.concat(goBars(1, bUpTerms, bUpValues, bDownTerms, bDownValues, 'Up-regulated', 'Down-regulated', 6.7, 5.6));
series = series.concat(goBars(7, hUpTerms, hUpValues, hDownTerms, hDownValues, 'Increased', 'Decreased', 7.4, 6.4));
series = series.concat(goBars(8, iUpTerms, iUpValues, iDownTerms, iDownValues, 'Increased', 'Decreased', 7.2, 19));
series.push(tableSeries(9, TC_COLS, cCells(), 7.7));
series.push(tableSeries(10, TJ_COLS, jCells(), 8.9));

const tRich = {
  b: {fontWeight: 'bold', fontSize: 11, fontFamily: FF, color: '#000', lineHeight: 11.5},
  bi: {fontWeight: 'bold', fontStyle: 'italic', fontSize: 11, fontFamily: FF, color: '#000', lineHeight: 11.5}
};
const mkTitle = (t1, sub, x, top) => ({text: '{b|' + t1 + '}\n' + sub, left: x, top: top, textAlign: 'center', padding: 0, textStyle: {rich: tRich}});
const KO_SUB = '{b|(}{bi|Pbnek4-ko}{b| 2 hpa vs WT 2 hpa)}';
const WT_SUB = '{b|(WT 2 hpa vs WT 0 hpa)}';
const titles = [
  mkTitle('RNA-seq', KO_SUB, 116, 4.3),
  mkTitle('RNA-seq', KO_SUB, 328, 4.3),
  mkTitle('Proteomics', WT_SUB, 130.5, 249.3),
  mkTitle('Proteomics', KO_SUB, 130.5, 523.3),
  mkTitle('Phosphoproteomics', WT_SUB, 389, 244.3),
  mkTitle('Phosphoproteomics', KO_SUB, 389, 523.3),
  mkTitle('Phosphoproteomics', WT_SUB, 639, 248.3),
  mkTitle('Phosphoproteomics', KO_SUB, 640, 518)
];

const lg = (name, left, top, w, h, fs, pad) => ({data: [name], left: left, top: top, padding: 0, itemWidth: w, itemHeight: h, icon: 'rect', selectedMode: false,
  textStyle: {fontSize: fs, color: '#444', fontFamily: FF, padding: [0, 0, 0, pad]}});
const legends = [
  lg('Up-regulated', 266.7, 34, 11, 7.7, 7.6, 1.5),
  lg('Down-regulated', 343.3, 34, 11, 7.7, 7.6, 2),
  lg('Increased', 551.7, 279.5, 12.6, 8.6, 8.9, 5.5),
  lg('Decreased', 635, 279.5, 12.6, 8.6, 8.9, 0),
  lg('Increased', 550, 547.3, 13.3, 9, 8.7, 0),
  lg('Decreased', 633.3, 547.3, 13.3, 9, 8.7, 1)
];

const option = {
  animation: false,
  backgroundColor: '#fff',
  textStyle: {fontFamily: FF},
  title: titles,
  legend: legends,
  grid: grids,
  xAxis: xAxes,
  yAxis: yAxes,
  series: series
};

const chart = echarts.init(document.getElementById('chart'), null, {width: 775, height: 1000, renderer: 'canvas'});
chart.setOption(option);

// ================= ANNOTATIONS =================
const gfx = [];
const txt = (s, x, y, font, fill, align, va, extra) => Object.assign({type: 'text', silent: true, z: 50, style: {text: s, x: x, y: y, font: font, fill: fill || '#000', align: align || 'left', verticalAlign: va || 'middle'}}, extra || {});
[['a',0,15],['b',220,15],['c',459,14],['d',0,258],['e',0,518],['f',256,250],['g',255,525],['h',503,257],['i',501,521.5],['j',2,787]]
  .forEach(l => gfx.push(txt(l[0], l[1], l[2] - 5.3, 'bold 16px ' + FF, '#000', 'left', 'middle')));
const CR = '#ff1f1f', CB = '#1f1fff';
[['717',61.7,34.3,CR,9.5],['(down)',62,44.7,CR,9.5],['837',152.7,34.3,CB,9.5],['(up)',154.7,44.7,CB,9.5],
 ['37',76,279.7,CR,10.5],['(down)',76.8,291.3,CR,10.5],['14',186.7,279.7,CB,10.5],['(up)',185.8,291.3,CB,10.5],
 ['9',81.7,552,CR,10.5],['(down)',76.7,563,CR,10.5],['6',185.5,552,CB,10.5],['(up)',185.5,563,CB,10.5],
 ['222',326,274,CR,10.5],['(down)',325.5,285.7,CR,10.5],['605',437.5,274,CB,10.5],['(up)',439.5,285.7,CB,10.5],
 ['122',335.3,552,CR,10.5],['(down)',334.2,563,CR,10.5],['48',444.2,552,CB,10.5],['(up)',443.8,563,CB,10.5]]
  .forEach(c => gfx.push(txt(c[0], c[1], c[2], 'bold ' + c[4] + 'px ' + FF, c[3], 'center', 'middle')));
function brackets(yi, groups, x, lx, pad, fs, lw) {
  groups.forEach(gp => {
    const y0 = chart.convertToPixel({yAxisIndex: yi}, gp[1]) - pad;
    const y1 = chart.convertToPixel({yAxisIndex: yi}, gp[2]) + pad;
    gfx.push({type: 'line', silent: true, z: 50, shape: {x1: x, y1: y0, x2: x, y2: y1}, style: {stroke: '#111', lineWidth: lw}});
    gfx.push(txt(gp[0], lx, (y0 + y1) / 2, 'bold ' + fs + 'px ' + FF, '#111', 'left', 'middle'));
  });
}
brackets(1, bGroups, 427.3, 435, 2, 8, 1.5);
brackets(7, hGroups, 756.7, 762, 2, 9.5, 2.5);
brackets(8, iGroups, 756.7, 761, 9, 9.5, 2);
gfx.push(txt('\u2212log\u2081\u2080(p \u2212 value)', 0, 0, '10.5px ' + FF, '#000', 'center', 'middle', {x: 264.5, y: 368, rotation: Math.PI / 2}));
[289.3, 488.3].forEach(x => {
  gfx.push({type: 'rect', silent: true, z: 60, shape: {x: x - 3, y: 299.5, width: 6, height: 5.5}, style: {fill: '#fff'}});
  gfx.push({type: 'line', silent: true, z: 61, shape: {x1: x - 3.5, y1: 301.5, x2: x + 3.5, y2: 298}, style: {stroke: '#000', lineWidth: 1}});
  gfx.push({type: 'line', silent: true, z: 61, shape: {x1: x - 3.5, y1: 306.5, x2: x + 3.5, y2: 303}, style: {stroke: '#000', lineWidth: 1}});
});
chart.setOption({graphic: {elements: gfx}});
</script>
</body>
</html>
